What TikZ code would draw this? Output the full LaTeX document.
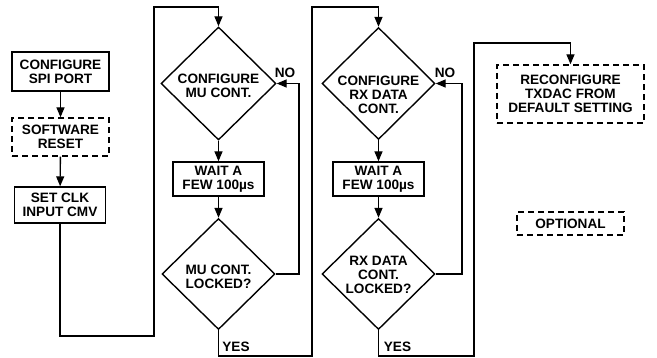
\documentclass[tikz,border=0pt]{standalone}
\usepackage{fontspec}
\setmainfont{Liberation Sans}
\usetikzlibrary{shapes.geometric,arrows.meta}
\begin{document}
\begin{tikzpicture}[x=1pt,y=-1pt,
  every node/.style={font=\fontsize{13.6}{14}\selectfont\bfseries, align=center, inner sep=0pt},
  procbox/.style={draw, line width=1.4pt},
  optbox/.style={draw, line width=1.4pt, dash pattern=on 6pt off 4pt},
  dia/.style={draw, diamond, line width=1.4pt, inner sep=0pt},
  arr/.style={line width=1.4pt, -{Triangle[length=10pt,width=8pt]}}]
\useasboundingbox (0,0) rectangle (657,358);
% left column
\node[procbox, minimum width=97pt, minimum height=39pt] (spi) at (60.5,71.5) {CONFIGURE\\SPI PORT};
\node[optbox, minimum width=97pt, minimum height=38pt] (reset) at (60.5,137) {SOFTWARE\\RESET};
\node[procbox, minimum width=91pt, minimum height=36pt] (clk) at (60,205) {SET CLK\\INPUT CMV};
% MU column
\node[dia, minimum width=115pt, minimum height=113pt] (d1) at (218.5,83.5) {};
\node (t1) at (218.5,85.5) {CONFIGURE\\MU CONT.};
\node[procbox, minimum width=91pt, minimum height=34pt] (w1) at (218.5,179) {WAIT A\\FEW 100µs};
\node[dia, minimum width=113pt, minimum height=111pt] (d2) at (218.5,274) {};
\node (t2) at (218.5,277) {MU CONT.\\LOCKED?};
% RX column
\node[dia, minimum width=113pt, minimum height=112pt] (d3) at (378.5,83.5) {};
\node (t3) at (378.5,94.5) {CONFIGURE\\RX DATA\\CONT.};
\node[procbox, minimum width=91pt, minimum height=34pt] (w2) at (378.5,179) {WAIT A\\FEW 100µs};
\node[dia, minimum width=113pt, minimum height=111pt] (d4) at (378.5,274) {};
\node (t4) at (378.5,274.5) {RX DATA\\CONT.\\LOCKED?};
% right column
\node[optbox, minimum width=147pt, minimum height=58pt] (txdac) at (570.5,94) {RECONFIGURE\\TXDAC FROM\\DEFAULT SETTING};
\node[optbox, minimum width=107pt, minimum height=23pt] (opt) at (570.5,223.5) {OPTIONAL};
% labels
\node (no1) at (285,72.5) {NO};
\node (no2) at (445,72.5) {NO};
\node (yes1) at (236,347) {YES};
\node (yes2) at (397.5,347) {YES};
% coordinates
\coordinate (c1) at (60,336);
\coordinate (c2) at (154,336);
\coordinate (c3) at (154,7);
\coordinate (c4) at (218.5,7);
\coordinate (n1a) at (299,274);
\coordinate (n1b) at (299,83.5);
\coordinate (y1a) at (218.5,356);
\coordinate (y1b) at (312,356);
\coordinate (y1c) at (312,7);
\coordinate (y1d) at (378.5,7);
\coordinate (n2a) at (462,274);
\coordinate (n2b) at (462,83.5);
\coordinate (y2a) at (378.5,356);
\coordinate (y2b) at (474,356);
\coordinate (y2c) at (474,43);
\coordinate (y2d) at (570.5,43);
% connectors
\draw[arr] (spi) -- (reset);
\draw[arr] (reset) -- (clk);
\draw[arr] (clk.south) -- (c1) -- (c2) -- (c3) -- (c4) -- (d1.north);
\draw[arr] (d1.south) -- (w1.north);
\draw[arr] (w1.south) -- (d2.north);
\draw[arr] (d2.east) -- (n1a) -- (n1b) -- (d1.east);
\draw[arr] (d2.south) -- (y1a) -- (y1b) -- (y1c) -- (y1d) -- (d3.north);
\draw[arr] (d3.south) -- (w2.north);
\draw[arr] (w2.south) -- (d4.north);
\draw[arr] (d4.east) -- (n2a) -- (n2b) -- (d3.east);
\draw[arr] (d4.south) -- (y2a) -- (y2b) -- (y2c) -- (y2d) -- (txdac.north);
\end{tikzpicture}
\end{document}
